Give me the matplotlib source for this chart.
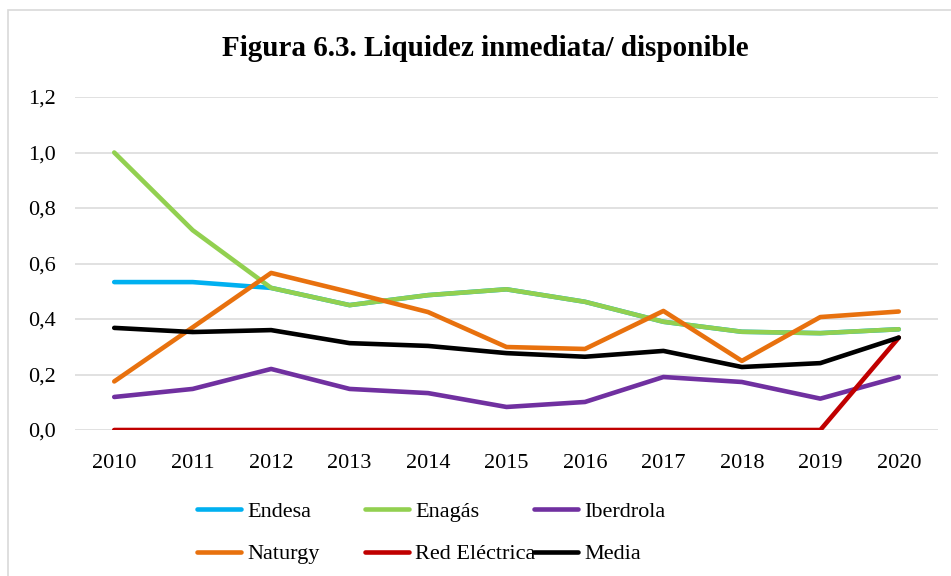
import matplotlib
matplotlib.use("Agg")
import matplotlib.pyplot as plt
from matplotlib.patches import Rectangle
from matplotlib.ticker import FuncFormatter

years = [2010, 2011, 2012, 2013, 2014, 2015, 2016, 2017, 2018, 2019, 2020]
endesa = [0.533, 0.533, 0.512, 0.450, 0.486, 0.507, 0.462, 0.390, 0.354, 0.349, 0.363]
enagas = [1.000, 0.720, 0.512, 0.450, 0.486, 0.507, 0.462, 0.390, 0.354, 0.349, 0.363]
iberdrola = [0.119, 0.148, 0.220, 0.148, 0.133, 0.083, 0.101, 0.191, 0.173, 0.113, 0.191]
naturgy = [0.175, 0.370, 0.566, 0.497, 0.425, 0.299, 0.292, 0.429, 0.249, 0.407, 0.427]
red_electrica = [0.0, 0.0, 0.0, 0.0, 0.0, 0.0, 0.0, 0.0, 0.0, 0.0, 0.333]
media = [0.368, 0.353, 0.360, 0.313, 0.303, 0.277, 0.264, 0.285, 0.227, 0.241, 0.333]

series = [
    ("Endesa", endesa, "#00B0F0"),
    ("Enagás", enagas, "#92D050"),
    ("Iberdrola", iberdrola, "#7030A0"),
    ("Naturgy", naturgy, "#E8710E"),
    ("Red Eléctrica", red_electrica, "#C00000"),
    ("Media", media, "#000000"),
]

title = "Figura 6.3. Liquidez inmediata/ disponible"

plt.rcParams['font.family'] = ['Liberation Serif', 'DejaVu Serif']

W, H = 951, 576
fig = plt.figure(figsize=(W / 100, H / 100), dpi=100)
ax = fig.add_axes([75 / W, 1 - 430 / H, (938 - 75) / W, (430 - 97) / H])

handles = []
for name, vals, col in series:
    h, = ax.plot(years, vals, color=col, lw=3.3, solid_capstyle='round',
                 solid_joinstyle='round', label=name, zorder=3)
    handles.append(h)

ax.set_ylim(0, 1.2)
ax.set_xlim(years[0] - 0.5, years[-1] + 0.5)
ax.set_yticks([0, 0.2, 0.4, 0.6, 0.8, 1.0, 1.2])
ax.yaxis.set_major_formatter(FuncFormatter(lambda v, p: f"{v:.1f}".replace(".", ",")))
ax.set_xticks(years)
ax.set_xticklabels([str(y) for y in years])
ax.grid(axis='y', color='#D9D9D9', lw=1.1, zorder=0)
for s in ax.spines.values():
    s.set_visible(False)
ax.tick_params(axis='both', length=0, labelsize=16, colors='black')
ax.tick_params(axis='y', pad=14)
ax.tick_params(axis='x', pad=17.5)

fig.text(485 / W, 1 - 49 / H, title, ha='center', va='center',
         fontsize=21, fontweight='bold')

# outer chart border
fig.patches.append(Rectangle((8 / W, -0.1), 1.2, 1 - 10 / H + 0.1,
                             transform=fig.transFigure, fill=False,
                             edgecolor='#D9D9D9', lw=1.2))

col_x = [197, 365, 534]
for i, x in enumerate(col_x):
    fig.legend([handles[i], handles[i + 3]], [series[i][0], series[i + 3][0]],
               loc='center left', bbox_to_anchor=(x / W, 1 - 533 / H),
               frameon=False, borderpad=0, borderaxespad=0, handlelength=2.0,
               handletextpad=0.25, labelspacing=0.97, fontsize=16)

fig.savefig("out.png", dpi=100)
